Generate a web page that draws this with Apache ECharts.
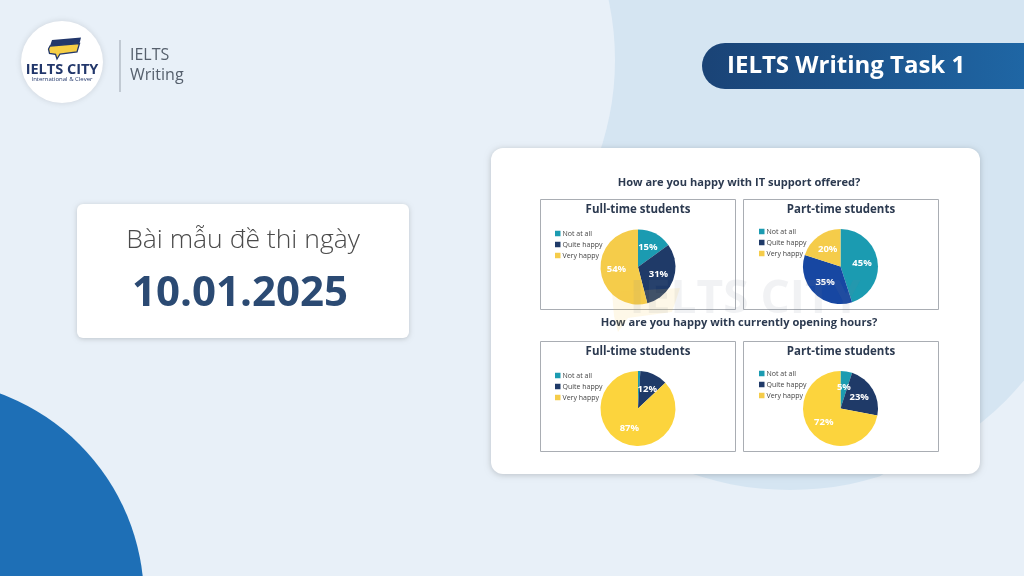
<!DOCTYPE html>
<html><head><meta charset="utf-8">
<script src="https://cdn.jsdelivr.net/npm/echarts@6/dist/echarts.min.js"></script>
<style>html,body{margin:0;padding:0;background:#E8F0F8;}#c{width:1024px;height:576px;}</style>
</head><body><div id="c"></div>
<script>
// ---- data ----
const categories = ['Not at all', 'Quite happy', 'Very happy'];
const itFullTime = [15, 31, 54];
const itPartTime = [45, 35, 20];
const hoursFullTime = [1, 12, 87];
const hoursPartTime = [5, 23, 72];
const questionTitles = ['How are you happy with IT support offered?', 'How are you happy with currently opening hours?'];
const panelTitles = ['Full-time students', 'Part-time students'];

const FONT = '"Open Sans", "Noto Sans", sans-serif';
const teal = '#1B9BB1', navy = '#1F3A68', brightBlue = '#1747A2', yellow = '#F5CC4A', yellow2 = '#FCD43D';

const chart = echarts.init(document.getElementById('c'), null, {renderer: 'canvas'});

function pieSeries(values, center, colors, hideIdx) {
  return {
    type: 'pie', center: center, radius: 37.5, startAngle: 90, clockwise: true,
    silent: true, animation: false,
    label: {show: true, position: 'inside', formatter: '{c}%', color: '#fff', fontSize: 9.5, fontWeight: 'bold', fontFamily: FONT},
    labelLine: {show: false},
    itemStyle: {borderWidth: 0},
    data: values.map((v, i) => ({
      name: categories[i], value: v,
      itemStyle: {color: colors[i]},
      label: (hideIdx === i) ? {show: false} : undefined
    }))
  };
}

function legend(left, top) {
  return {
    left: left, top: top, orient: 'vertical', icon: 'rect', itemWidth: 5.5, itemHeight: 5.5, itemGap: 4,
    selectedMode: false,
    textStyle: {fontSize: 7, color: '#444', fontFamily: FONT, padding: [0, 0, 0, -3]},
    data: categories.map((n, i) => ({name: n, itemStyle: {color: [teal, navy, yellow][i]}}))
  };
}

const boxes = [
  [540, 199], [743, 199], [540, 341], [743, 341]
];

const graphics = [
  // background shapes
  {type: 'rect', shape: {x: 0, y: 0, width: 1024, height: 576}, style: {fill: '#E8F0F8'}, z: -100},
  {type: 'circle', shape: {cx: 790, cy: 185, r: 305}, style: {fill: '#D5E5F2'}, z: -99},
  {type: 'circle', shape: {cx: 330, cy: 60, r: 285}, style: {fill: '#E8F0F8'}, z: -98},
  {type: 'circle', shape: {cx: 1005, cy: 645, r: 210}, style: {fill: '#E8F0F8'}, z: -97},
  {type: 'circle', shape: {cx: -76, cy: 600, r: 220}, style: {fill: '#1E6FB6'}, z: -96},
  // logo
  {type: 'circle', shape: {cx: 62, cy: 62, r: 41}, style: {fill: '#fff', shadowBlur: 6, shadowColor: 'rgba(0,0,0,0.12)'}, z: -90},
  {type: 'polygon', shape: {points: [[52, 40], [81, 37.5], [79.5, 43.5], [50, 46]]}, style: {fill: '#22376B'}, z: -89},
  {type: 'polygon', shape: {points: [[50, 46], [79.5, 43.5], [77, 52], [60, 54], [57, 59], [55.5, 54.3], [49.5, 53.5], [48.5, 49]]}, style: {fill: '#F6CE45', stroke: '#22376B', lineWidth: 1.3}, z: -89},
  {type: 'text', style: {x: 62, y: 69.5, text: 'IELTS CITY', fill: '#22376B', font: 'bold 14.5px ' + FONT, align: 'center', verticalAlign: 'middle'}, z: -88},
  {type: 'text', style: {x: 62, y: 79, text: 'International & Clever', fill: '#22376B', font: '6px ' + FONT, align: 'center', verticalAlign: 'middle'}, z: -88},
  {type: 'line', shape: {x1: 120, y1: 40, x2: 120, y2: 92}, style: {stroke: '#9AA3AE', lineWidth: 1}, z: -88},
  {type: 'text', style: {x: 130, y: 55, text: 'IELTS', fill: '#56606D', font: '16px ' + FONT, verticalAlign: 'middle'}, z: -88},
  {type: 'text', style: {x: 130, y: 75, text: 'Writing', fill: '#56606D', font: '16px ' + FONT, verticalAlign: 'middle'}, z: -88},
  // banner
  {type: 'rect', shape: {x: 702, y: 43, width: 340, height: 46, r: [23, 0, 0, 23]},
   style: {fill: {type: 'linear', x: 0, y: 0, x2: 1, y2: 0, colorStops: [{offset: 0, color: '#1A4376'}, {offset: 1, color: '#1F68A7'}]}}, z: -88},
  {type: 'text', style: {x: 727, y: 66, text: 'IELTS Writing Task 1', fill: '#fff', font: 'bold 24px ' + FONT, verticalAlign: 'middle'}, z: -87},
  // left card
  {type: 'rect', shape: {x: 77, y: 204, width: 332, height: 134, r: 6}, style: {fill: '#fff', shadowBlur: 5, shadowOffsetY: 1, shadowColor: 'rgba(0,0,0,0.18)'}, z: -88},
  {type: 'text', style: {x: 243, y: 240, text: 'Bài mẫu đề thi ngày', fill: '#4A4A4A', font: '300 26.5px ' + FONT, align: 'center', verticalAlign: 'middle'}, z: -87},
  {type: 'text', style: {x: 240, y: 294, text: '10.01.2025', fill: '#2B4A73', font: 'bold 42px ' + FONT, align: 'center', verticalAlign: 'middle'}, z: -87},
  // chart card
  {type: 'rect', shape: {x: 491, y: 148, width: 489, height: 326, r: 12}, style: {fill: '#fff', shadowBlur: 6, shadowOffsetY: 1, shadowColor: 'rgba(0,0,0,0.2)'}, z: -88},
  {type: 'text', style: {x: 739, y: 183, text: questionTitles[0], fill: '#2C3A50', font: 'bold 11.1px ' + FONT, align: 'center', verticalAlign: 'middle'}, z: -87},
  {type: 'text', style: {x: 739, y: 323, text: questionTitles[1], fill: '#2C3A50', font: 'bold 11.1px ' + FONT, align: 'center', verticalAlign: 'middle'}, z: -87},
  // watermark
  {type: 'text', style: {x: 745, y: 300, text: 'IELTS CITY', fill: 'rgba(120,130,150,0.10)', font: 'bold 46px ' + FONT, align: 'center', verticalAlign: 'middle'}, z: 50},
  {type: 'polygon', shape: {points: [[612, 292], [680, 288], [672, 312], [628, 318], [618, 332], [614, 316]]}, style: {fill: 'rgba(245,204,74,0.13)'}, z: 50}
];
boxes.forEach((b, i) => {
  graphics.push({type: 'rect', shape: {x: b[0] + 0.5, y: b[1] + 0.5, width: 195, height: 110}, style: {fill: 'none', stroke: '#A9ADB3', lineWidth: 1}, z: -86});
  graphics.push({type: 'text', style: {x: b[0] + 98, y: b[1] + 11, text: panelTitles[i % 2], fill: '#2C3A50', font: 'bold 11.5px ' + FONT, align: 'center', verticalAlign: 'middle'}, z: -86});
});

chart.setOption({
  animation: false,
  graphic: {elements: graphics},
  legend: [legend(550, 225), legend(754, 223), legend(550, 367), legend(754, 365)],
  series: [
    pieSeries(itFullTime, [638, 267], [teal, navy, yellow]),
    pieSeries(itPartTime, [840.5, 266.5], [teal, brightBlue, yellow]),
    pieSeries(hoursFullTime, [638, 408.5], [teal, navy, yellow2], 0),
    pieSeries(hoursPartTime, [840.5, 408.5], [teal, navy, yellow2])
  ]
});
</script></body></html>
